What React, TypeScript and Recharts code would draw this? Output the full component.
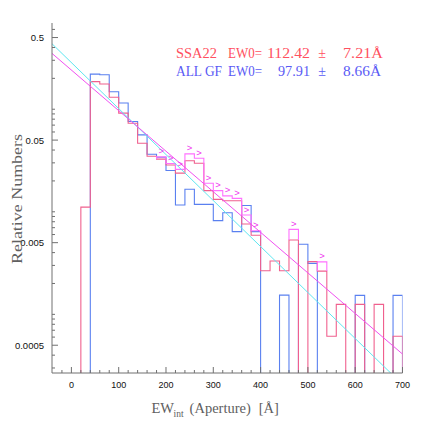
import React from 'react';
import { ComposedChart, Line, Scatter, XAxis, YAxis } from 'recharts';

// bin edges of the EW_int histogram [Å]
const binEdges = [
  20, 40, 60, 80, 100, 120, 140, 160, 180, 200, 220, 240, 260, 280, 300, 320, 340, 360,
  380, 400, 420, 440, 460, 480, 500, 520, 540, 560, 580, 600, 620, 640, 660, 680, 700,
];

// relative numbers per bin (0 = empty bin)
const ssa22 = [
  0.0111, 0.186, 0.176, 0.131, 0.0916, 0.0731, 0.0466, 0.0348, 0.0326, 0.0286, 0.0238,
  0.0315, 0.0297, 0.0161, 0.0132, 0.0128, 0.0128, 0.0076, 0.0059, 0.00266, 0.00331,
  0.00266, 0.0053, 0, 0.00327, 0.00264, 0.000612, 0.00125, 0, 0.00125, 0, 0.00125, 0,
  0.000612,
];
const allGf = [
  0, 0.22, 0.217, 0.148, 0.115, 0.0758, 0.0562, 0.0364, 0.034, 0.0253, 0.01165, 0.0166,
  0.0118, 0.0118, 0.0082, 0.0098, 0.0064, 0.0115, 0.0064, 0, 0, 0.00154, 0, 0.00483,
  0.00314, 0, 0, 0, 0, 0.00153, 0, 0, 0, 0.00153,
];
// SSA22 bins with lower limits (marked with ">")
const ssa22Limits: (number | null)[] = [
  null, null, null, null, null, null, null, null, 0.0343, 0.0296, 0.0259, 0.0367, 0.0333,
  0.019, 0.0161, 0.0143, 0.0135, 0.0093, 0.00653, null, null, null, 0.00674, null, null,
  0.00325, null, null, null, null, null, null, null, null,
];

// exponential fits, end points
const fitEw = [-41, 700];
const fitSsa22 = [0.35, 0.00041];
const fitAllGf = [0.435, 0.000207];

const xTicks = [
  -20, 0, 20, 40, 60, 80, 100, 120, 140, 160, 180, 200, 220, 240, 260, 280, 300, 320, 340,
  360, 380, 400, 420, 440, 460, 480, 500, 520, 540, 560, 580, 600, 620, 640, 660, 680, 700,
];
const yTicks = [
  0.0003, 0.0004, 0.0005, 0.0006, 0.0007, 0.0008, 0.0009, 0.001, 0.002, 0.003, 0.004,
  0.005, 0.006, 0.007, 0.008, 0.009, 0.01, 0.02, 0.03, 0.04, 0.05, 0.06, 0.07, 0.08, 0.09,
  0.1, 0.2, 0.3, 0.4, 0.5, 0.6,
];
const yLabels = [0.0005, 0.005, 0.05, 0.5];

const FLOOR = 1e-5; // empty bins drop below the log axis and get clipped
const AXIS = '#707070';
const PINK = '#f0608e';
const BLUE = '#5a80f0';
const MAGENTA = '#ff70ff';

type Pt = { x: number; y: number };

const toSteps = (values: number[]): Pt[] => {
  const n = values.length;
  const pts: Pt[] = [{ x: binEdges[0], y: FLOOR }];
  values.forEach((v, i) => pts.push({ x: binEdges[i], y: v > 0 ? v : FLOOR }));
  pts.push({ x: binEdges[n], y: values[n - 1] > 0 ? values[n - 1] : FLOOR });
  pts.push({ x: binEdges[n], y: FLOOR });
  return pts;
};

// consecutive limit bins -> one step segment each
const limitSegments = (): Pt[][] => {
  const segs: Pt[][] = [];
  let cur: Pt[] | null = null;
  let last = -1;
  const close = () => {
    if (!cur) return;
    cur.push({ x: binEdges[last + 1], y: ssa22Limits[last] as number });
    cur.push({ x: binEdges[last + 1], y: ssa22[last] });
    segs.push(cur);
    cur = null;
  };
  ssa22Limits.forEach((v, i) => {
    if (v == null) {
      close();
      return;
    }
    if (!cur) cur = [{ x: binEdges[i], y: ssa22[i] }];
    cur.push({ x: binEdges[i], y: v });
    last = i;
  });
  close();
  return segs;
};

const limitMarks = ssa22Limits
  .map((v, i) => (v == null ? null : { x: (binEdges[i] + binEdges[i + 1]) / 2, y: v }))
  .filter((p): p is Pt => p !== null);

const fitLine = (ys: number[]) => fitEw.map((x, i) => ({ x, y: ys[i] }));

const SANS = "'Liberation Sans', Arial, sans-serif";
const SERIF = "'Liberation Serif', 'Times New Roman', serif";
const FIT = 'spacingAndGlyphs';

const BottomTick = (props: any) => {
  const { x, y, payload } = props;
  const major = payload.value % 100 === 0;
  return (
    <g>
      <line x1={x} x2={x} y1={y} y2={y - (major ? 6 : 3)} stroke={AXIS} />
      {major && (
        <text x={x} y={y + 14.5} textAnchor="middle" fontSize={9} fill="#111" fontFamily={SANS}>
          {payload.value}
        </text>
      )}
    </g>
  );
};

const TopTick = (props: any) => {
  const { x, y, payload } = props;
  const major = payload.value % 100 === 0;
  return <line x1={x} x2={x} y1={y} y2={y + (major ? 6 : 3)} stroke={AXIS} />;
};

const LeftTick = (props: any) => {
  const { x, y, payload } = props;
  const major = yLabels.includes(payload.value);
  return (
    <g>
      <line x1={x} x2={x + (major ? 6 : 3)} y1={y} y2={y} stroke={AXIS} />
      {major && (
        <text x={x - 8} y={y + 3.5} textAnchor="end" fontSize={9.5} fill="#111" fontFamily={SANS}>
          {String(payload.value)}
        </text>
      )}
    </g>
  );
};

const RightTick = (props: any) => {
  const { x, y, payload } = props;
  const major = yLabels.includes(payload.value);
  return <line x1={x} x2={x - (major ? 6 : 3)} y1={y} y2={y} stroke={AXIS} />;
};

const Marker = (props: any) => {
  const { cx, cy } = props;
  if (cx == null || cy == null) return null;
  return (
    <text x={cx} y={cy - 2.5} textAnchor="middle" fontSize={9.5} fill="#ee33ee" fontFamily={SANS}>
      &gt;
    </text>
  );
};

export default function App() {
  const segs = limitSegments();
  return (
    <div style={{ position: 'absolute', left: 0, top: 0, width: 425, height: 425, background: '#fff' }}>
      <ComposedChart width={425} height={425} margin={{ top: 23, right: 22.5, bottom: 0, left: 0 }}>
        <XAxis
          xAxisId="main"
          dataKey="x"
          type="number"
          domain={[-41, 700]}
          allowDataOverflow
          ticks={xTicks}
          interval={0}
          height={52}
          tickSize={0}
          tickMargin={0}
          tickLine={false}
          axisLine={{ stroke: AXIS }}
          tick={<BottomTick />}
        />
        <XAxis
          xAxisId="top"
          orientation="top"
          dataKey="x"
          type="number"
          domain={[-41, 700]}
          allowDataOverflow
          ticks={xTicks}
          interval={0}
          height={0}
          tickSize={0}
          tickMargin={0}
          tickLine={false}
          axisLine={{ stroke: AXIS }}
          tick={<TopTick />}
        />
        <YAxis
          yAxisId="main"
          dataKey="y"
          type="number"
          scale="log"
          domain={[0.000268, 0.693]}
          allowDataOverflow
          ticks={yTicks}
          interval={0}
          width={52}
          tickSize={0}
          tickMargin={0}
          tickLine={false}
          axisLine={{ stroke: AXIS }}
          tick={<LeftTick />}
        />
        <YAxis
          yAxisId="right"
          orientation="right"
          dataKey="y"
          type="number"
          scale="log"
          domain={[0.000268, 0.693]}
          allowDataOverflow
          ticks={yTicks}
          interval={0}
          width={0}
          tickSize={0}
          tickMargin={0}
          tickLine={false}
          axisLine={{ stroke: AXIS }}
          tick={<RightTick />}
        />

        <Line xAxisId="main" yAxisId="main" data={toSteps(allGf)} dataKey="y" type="stepAfter" stroke={BLUE} strokeWidth={1.1} dot={false} activeDot={false} isAnimationActive={false} />
        <Line xAxisId="main" yAxisId="main" data={toSteps(ssa22)} dataKey="y" type="stepAfter" stroke={PINK} strokeWidth={1.1} dot={false} activeDot={false} isAnimationActive={false} />
        {segs.map((s, i) => (
          <Line key={i} xAxisId="main" yAxisId="main" data={s} dataKey="y" type="stepAfter" stroke={MAGENTA} strokeWidth={1.1} dot={false} activeDot={false} isAnimationActive={false} />
        ))}
        <Line xAxisId="main" yAxisId="main" data={fitLine(fitAllGf)} dataKey="y" type="linear" stroke="#5ee6f0" strokeWidth={1} dot={false} activeDot={false} isAnimationActive={false} />
        <Line xAxisId="main" yAxisId="main" data={fitLine(fitSsa22)} dataKey="y" type="linear" stroke="#f050f0" strokeWidth={1} dot={false} activeDot={false} isAnimationActive={false} />
        <Scatter xAxisId="main" yAxisId="main" data={limitMarks} dataKey="y" shape={<Marker />} isAnimationActive={false} />
      </ComposedChart>

      <svg width={425} height={425} style={{ position: 'absolute', left: 0, top: 0, pointerEvents: 'none' }}>
        <g fontFamily={SERIF} fontSize={14}>
          <g fill="#ff5060">
            <text x={176} y={57.5} textLength={41} lengthAdjust={FIT}>SSA22</text>
            <text x={228} y={57.5} textLength={34} lengthAdjust={FIT}>EW0=</text>
            <text x={267} y={57.5} textLength={43} lengthAdjust={FIT}>112.42</text>
            <text x={322} y={57.5} textAnchor="middle">±</text>
            <text x={343} y={57.5} textLength={40} lengthAdjust={FIT}>7.21Å</text>
          </g>
          <g fill="#5a5af5">
            <text x={176} y={76} textLength={46} lengthAdjust={FIT}>ALL GF</text>
            <text x={228} y={76} textLength={34} lengthAdjust={FIT}>EW0=</text>
            <text x={278} y={76} textLength={32} lengthAdjust={FIT}>97.91</text>
            <text x={322} y={76} textAnchor="middle">±</text>
            <text x={343} y={76} textLength={38} lengthAdjust={FIT}>8.66Å</text>
          </g>
        </g>
        <g fontFamily={SERIF} fill="#606060" fontSize={14.5}>
          <text x={151.5} y={413}>
            EW
            <tspan fontSize={9.5} dy={3.5} dx={-0.5}>int</tspan>
            <tspan dy={-3.5} dx={6}>(Aperture)</tspan>
            <tspan dx={8}>[Å]</tspan>
          </text>
          <text x={0} y={0} textAnchor="middle" textLength={130} lengthAdjust={FIT} transform="translate(22 199) rotate(-90)">
            Relative Numbers
          </text>
        </g>
      </svg>
    </div>
  );
}
